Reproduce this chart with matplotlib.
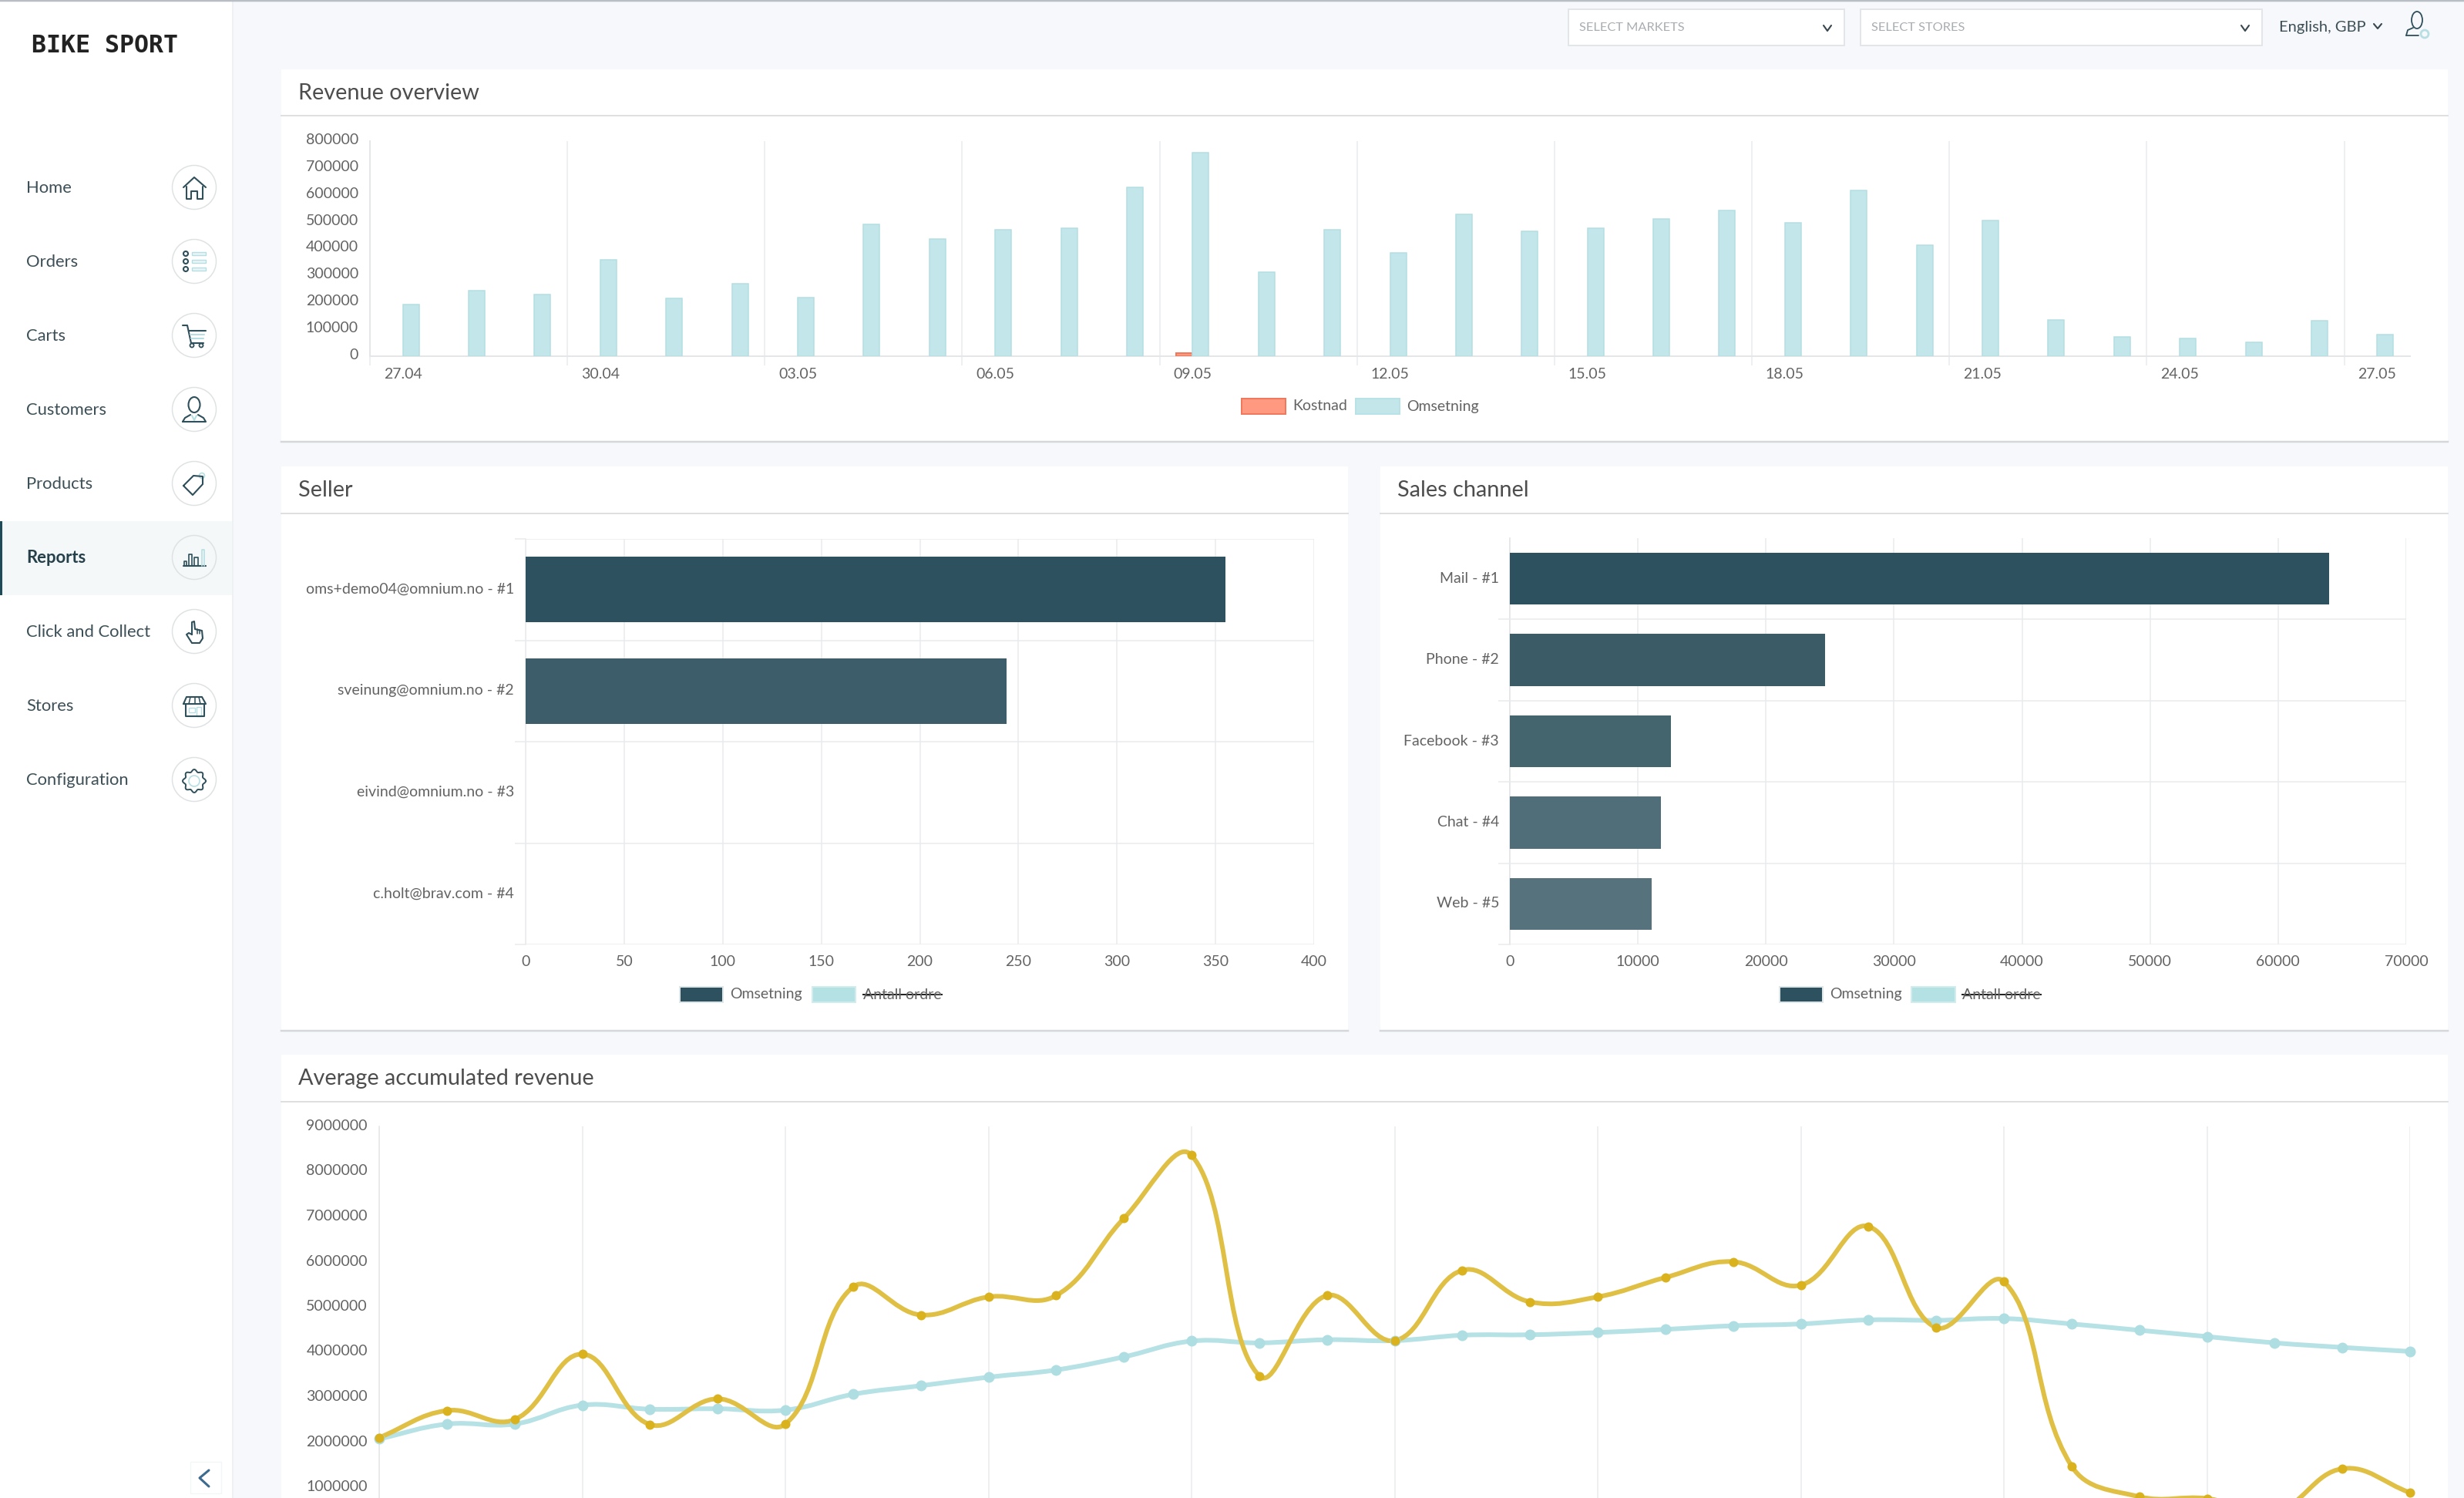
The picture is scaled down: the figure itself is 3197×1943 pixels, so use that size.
import numpy as np
import matplotlib
matplotlib.use('Agg')
import matplotlib.pyplot as plt
from matplotlib.patches import Rectangle, Circle, Ellipse, PathPatch
from matplotlib.path import Path
from matplotlib.transforms import ScaledTranslation

plt.rcParams['font.family'] = ['Lato', 'DejaVu Sans']

# revenue overview
date_labels = ['27.04', '30.04', '03.05', '06.05', '09.05', '12.05', '15.05', '18.05', '21.05', '24.05', '27.05']
omsetning = [192000, 244000, 229000, 358000, 216000, 269000, 218000, 490000, 435000, 470000, 475000,
             628000, 757000, 312000, 470000, 383000, 529000, 465000, 476000, 511000, 543000, 496000,
             616000, 414000, 505000, 134000, 72000, 66000, 51000, 131000, 79000]
kostnad = [0, 0, 0, 0, 0, 0, 0, 0, 0, 0, 0, 0, 12000, 0, 0, 0, 0, 0, 0, 0, 0, 0, 0, 0, 0, 0, 0, 0, 0, 0, 0]

# seller
sellers = ['oms+demo04@omnium.no - #1', 'sveinung@omnium.no - #2', 'eivind@omnium.no - #3', 'c.holt@brav.com - #4']
seller_values = [355, 244, 0, 0]

# sales channel
channels = ['Mail - #1', 'Phone - #2', 'Facebook - #3', 'Chat - #4', 'Web - #5']
channel_values = [63960, 24590, 12560, 11800, 11100]

# average accumulated revenue
acc_ticks = ['1000000', '2000000', '3000000', '4000000', '5000000', '6000000', '7000000', '8000000', '9000000']
acc_yellow = [2.10, 2.70, 2.50, 3.95, 2.39, 2.96, 2.40, 5.44, 4.82, 5.22, 5.25, 6.96, 8.36, 3.47, 5.25, 4.25,
              5.81, 5.11, 5.22, 5.65, 6.00, 5.48, 6.78, 4.54, 5.56, 1.47, 0.79, 0.75, 0.45, 1.41, 0.88]
acc_teal = [2.07, 2.40, 2.40, 2.82, 2.73, 2.74, 2.71, 3.06, 3.25, 3.44, 3.60, 3.89, 4.24, 4.20, 4.27, 4.25,
            4.37, 4.38, 4.43, 4.50, 4.58, 4.62, 4.71, 4.70, 4.74, 4.62, 4.48, 4.34, 4.20, 4.10, 4.01]

menu = ['Home', 'Orders', 'Carts', 'Customers', 'Products', 'Reports', 'Click and Collect', 'Stores', 'Configuration']

W, H = 3197, 1943
DARK = '#2f4f5a'
LIGHT = '#b7dfe3'
GRID = '#e9ebec'
TICK = '#636363'
TS = 14

fig = plt.figure(figsize=(W / 100, H / 100), dpi=100, facecolor='#f6f8fb')
bg = fig.add_axes([0, 0, 1, 1], zorder=0)
bg.set_xlim(0, W)
bg.set_ylim(H, 0)
bg.axis('off')


def px(n):
    return n * 0.72


def add_ax(x0, y0, x1, y1):
    ax = fig.add_axes([x0 / W, 1 - y1 / H, (x1 - x0) / W, (y1 - y0) / H], zorder=2)
    ax.patch.set_alpha(0)
    return ax


def card(x0, y0, x1, y1, head, title, title_x, bottom=True):
    bg.add_patch(Rectangle((x0, y0), x1 - x0, y1 - y0, fc='white', ec='none'))
    bg.plot([x0, x1], [head, head], color='#dddfe1', lw=px(2))
    if bottom:
        bg.plot([x0, x1], [y1, y1], color='#d5d8db', lw=px(2.5))
    bg.text(title_x, (y0 + head) / 2 + 1, title, fontsize=20.8, color='#4d4d4d', va='center', ha='left')


def line(pts, color=DARK, lw=1.5):
    a = np.array(pts)
    bg.plot(a[:, 0], a[:, 1], color=color, lw=lw, solid_capstyle='round', solid_joinstyle='round')


def legend_item(x0, x1, y, label, text_x, fc, ec, strike=False):
    bg.add_patch(Rectangle((x0, y - 10), x1 - x0, 20, fc=fc, ec=ec, lw=px(2)))
    t = bg.text(text_x, y, label, fontsize=TS, color=TICK, va='center', ha='left')
    if strike:
        fig.canvas.draw()
        e = t.get_window_extent()
        bg.plot([e.x0, e.x1], [y, y], color='#222222', lw=px(2))


def shift_labels(labels, up):
    for lab in labels:
        lab.set_transform(lab.get_transform() + ScaledTranslation(0, up / 100, fig.dpi_scale_trans))


def smooth_path(xs, ys, sx, sy, t=0.4):
    # same cubic smoothing as the web chart, measured in pixel space
    n = len(xs)
    before, after = [], []
    for i in range(n):
        a, b = max(i - 1, 0), min(i + 1, n - 1)
        d01 = np.hypot((xs[i] - xs[a]) * sx, (ys[i] - ys[a]) * sy)
        d12 = np.hypot((xs[b] - xs[i]) * sx, (ys[b] - ys[i]) * sy)
        s = d01 / (d01 + d12)
        dx, dy = xs[b] - xs[a], ys[b] - ys[a]
        before.append((xs[i] - t * s * dx, ys[i] - t * s * dy))
        after.append((xs[i] + t * (1 - s) * dx, ys[i] + t * (1 - s) * dy))
    verts = [(xs[0], ys[0])]
    codes = [Path.MOVETO]
    for i in range(n - 1):
        verts += [after[i], before[i + 1], (xs[i + 1], ys[i + 1])]
        codes += [Path.CURVE4] * 3
    return Path(verts, codes)


# page chrome
bg.add_patch(Rectangle((0, 0), 302, H, fc='white', ec='none'))
bg.plot([302, 302], [0, H], color='#eef0f3', lw=px(2))
bg.plot([0, W], [1, 1], color='#b9bdc4', lw=px(2.5))
bg.text(41, 60, 'BIKE SPORT', fontsize=22.8, family='DejaVu Sans Mono', weight='bold', color='#222222', va='center')

# sidebar
bg.add_patch(Rectangle((0, 676), 302, 96, fc='#f4f8f8', ec='none'))
bg.add_patch(Rectangle((0, 676), 2.5, 96, fc='#1f4a57', ec='none'))
for i, name in enumerate(menu):
    cy = 243 + 96 * i
    active = name == 'Reports'
    bg.text(34, cy + 1, name, fontsize=15.8, color='#26404a' if active else '#3d4f57',
            weight='bold' if active else 'normal', va='center')
    bg.add_patch(Circle((252, cy), 28.5, fc='white' if not active else '#f4f8f8', ec='#dfe2e3', lw=px(1.5)))

ox = 252


def rel(cy, pts):
    return [(ox + a, cy + b) for a, b in pts]


# home
cy = 243
line(rel(cy, [(-14, 0), (0, -13), (15, 0)]))
line(rel(cy, [(-10, -1), (-10, 15), (-4, 15), (-4, 5), (4, 5), (4, 15), (11, 15), (11, -1)]))
# orders
cy = 339
for dy in (-10, 0, 10):
    bg.add_patch(Circle((ox - 11, cy + dy), 3, fc='none', ec=DARK, lw=1.5))
    bg.add_patch(Rectangle((ox - 3, cy + dy - 2), 18, 4, fc='#e8f5f6', ec=LIGHT, lw=1))
# carts
cy = 435
line(rel(cy, [(-15, -13), (-9, -13), (-4, 10), (12, 10)]))
line(rel(cy, [(-7, -6), (15, -6)]))
line(rel(cy, [(-5, -1), (13, -1)]), LIGHT)
line(rel(cy, [(-4, 4), (12, 4)]), LIGHT)
bg.add_patch(Circle((ox - 3, cy + 13), 2.5, fc='none', ec=DARK, lw=1.3))
bg.add_patch(Circle((ox + 9, cy + 13), 2.5, fc='none', ec=DARK, lw=1.3))
# customers
cy = 531
bg.add_patch(Ellipse((ox, cy - 6), 15, 20, fc='none', ec=DARK, lw=1.5))
line(rel(cy, [(-15, 16), (-12, 11), (-5, 7)]))
line(rel(cy, [(5, 7), (12, 11), (15, 16), (-15, 16)]))
line(rel(cy, [(-3, 8), (0, 14), (3, 8)]), LIGHT)
# products
cy = 628
line(rel(cy, [(-14, 2), (-1, -11), (11, -10), (11, 0), (-2, 14), (-14, 2)]))
bg.add_patch(Circle((ox + 10, cy - 11), 3.5, fc='none', ec=LIGHT, lw=1.2))
# reports
cy = 724
line(rel(cy, [(-14, 10), (15, 10)]))
for a, b, top in [(-13, -10, 4), (-7, -3, -5), (0, 5, -1)]:
    line(rel(cy, [(a, 10), (a, top), (b, top), (b, 10)]), lw=1.2)
line(rel(cy, [(10, 10), (10, -11), (13, -11), (13, 10)]), LIGHT, 1.2)
# click and collect
cy = 820
line(rel(cy, [(-3, 3), (-3, -13), (0, -14), (1, -4), (10, -2), (11, 8), (7, 14), (-3, 14), (-10, 3), (-7, 1), (-3, 3)]))
line(rel(cy, [(4, -4), (4, 2)]), lw=1.1)
line(rel(cy, [(7, -3), (7, 2)]), lw=1.1)
# stores
cy = 916
line(rel(cy, [(-14, -3), (-10, -12), (10, -12), (15, -3), (-14, -3)]))
line(rel(cy, [(-11, -3), (-11, 13), (13, 13), (13, -3)]))
line(rel(cy, [(-5, -12), (-7, -3)]), lw=1.1)
line(rel(cy, [(1, -12), (1, -3)]), lw=1.1)
line(rel(cy, [(6, -12), (8, -3)]), lw=1.1)
bg.add_patch(Rectangle((ox - 7, cy + 2), 8, 6, fc='none', ec=LIGHT, lw=1))
bg.add_patch(Rectangle((ox + 3, cy + 1), 6, 12, fc='none', ec=LIGHT, lw=1))
# configuration
cy = 1013
th = np.linspace(0, 2 * np.pi, 121)
rr = 13.5 + 1.5 * np.cos(8 * th)
bg.plot(ox + rr * np.cos(th), cy + rr * np.sin(th), color=DARK, lw=1.4)
bg.add_patch(Circle((ox, cy), 7, fc='none', ec=LIGHT, lw=1.2))
# collapse arrow
bg.add_patch(Rectangle((247, 1896), 40, 41, fc='white', ec='#f4f5f6', lw=1))
line([(271, 1907), (259, 1917), (271, 1928)], '#3d6a8f', 2.2)

# top bar
for x0, x1, label in [(2035, 2393, 'SELECT MARKETS'), (2414, 2935, 'SELECT STORES')]:
    bg.add_patch(Rectangle((x0, 12), x1 - x0, 47, fc='white', ec='#e3e6e9', lw=px(2)))
    bg.text(x0 + 14, 36, label, fontsize=11.8, color='#a9aeb2', va='center')
    line([(x1 - 27, 33), (x1 - 22, 40), (x1 - 17, 33)], '#37474f', 1.5)
bg.text(2957, 35, 'English, GBP', fontsize=14.5, color='#3d4f57', va='center')
line([(3080, 31), (3085, 37), (3090, 31)], '#37474f', 1.5)
bg.add_patch(Ellipse((3136, 26), 14, 22, fc='none', ec=DARK, lw=1.3))
line([(3122, 46), (3124, 39), (3131, 36)], DARK, 1.3)
line([(3122, 46), (3138, 46)], DARK, 1.3)
bg.add_patch(Circle((3146, 44), 5, fc='none', ec=LIGHT, lw=2))

# cards
card(365, 90, 3176, 573, 150, 'Revenue overview', 387)
card(365, 605, 1749, 1337, 666, 'Seller', 387)
card(1791, 605, 3176, 1337, 666, 'Sales channel', 1813)
card(365, 1368, 3176, H + 10, 1429, 'Average accumulated revenue', 387, bottom=False)

# revenue overview chart
ax = add_ax(480, 183, 3127, 462)
pos = np.arange(len(omsetning))
has_cost = np.array(kostnad) > 0
ax.bar(pos[has_cost] - 0.123, np.array(kostnad)[has_cost], width=0.246, color='#ff9a80', edgecolor='#f0785c', lw=px(2), zorder=3)
ax.bar(pos + 0.123, omsetning, width=0.246, color='#c2e6e9', edgecolor='#b3dfe3', lw=px(1.5), zorder=3)
ax.set_xlim(-0.5, 30.5)
ax.set_ylim(0, 800000)
ax.set_yticks(np.arange(0, 800001, 100000))
ax.set_xticks(np.arange(0, 31, 3))
ax.set_xticklabels(date_labels)
ax.set_xticks(np.arange(-0.5, 30.6, 3), minor=True)
ax.tick_params(axis='x', which='major', length=0, pad=10.5, labelsize=TS, labelcolor=TICK)
ax.tick_params(axis='x', which='minor', length=px(12), width=px(1.5), color=GRID)
ax.tick_params(axis='y', length=0, pad=px(15), labelsize=TS, labelcolor=TICK)
ax.grid(True, axis='x', which='minor', color=GRID, lw=px(1.5), zorder=0)
shift_labels(ax.get_yticklabels(), 3)
for s in ('top', 'right'):
    ax.spines[s].set_visible(False)
for s in ('left', 'bottom'):
    ax.spines[s].set_color('#e4e6e7')
    ax.spines[s].set_linewidth(px(2))
legend_item(1611, 1668, 527, 'Kostnad', 1677, '#ff9a80', '#f0785c')
legend_item(1759, 1816, 527, 'Omsetning', 1825, '#c2e6e9', '#b9e2e6')

# seller chart
ax = add_ax(682, 699, 1705, 1225)
ax.barh(np.arange(len(sellers)), seller_values, height=0.645, color=['#2e5160', '#3c5d69', '#44646e', '#4f6e79'], zorder=3)
ax.set_xlim(0, 400)
ax.set_ylim(3.5, -0.5)
ax.set_xticks(np.arange(0, 401, 50))
ax.set_yticks(np.arange(len(sellers)))
ax.set_yticklabels(sellers)
ax.set_yticks(np.arange(-0.5, 3.6, 1), minor=True)
ax.tick_params(axis='x', length=0, pad=10, labelsize=TS, labelcolor=TICK)
ax.tick_params(axis='y', which='major', length=0, pad=px(15), labelsize=TS, labelcolor=TICK)
ax.tick_params(axis='y', which='minor', length=px(14), width=px(1.5), color=GRID)
ax.grid(True, axis='x', which='major', color=GRID, lw=px(1.5), zorder=0)
ax.grid(True, axis='y', which='minor', color=GRID, lw=px(1.5), zorder=0)
shift_labels(ax.get_yticklabels(), 2)
for s in ax.spines.values():
    s.set_visible(False)
ax.plot([0, 0], [-0.5, 3.5], color=GRID, lw=px(1.5), clip_on=False, zorder=1)
legend_item(882, 938, 1290, 'Omsetning', 947, '#2e5160', '#dfe6e8')
legend_item(1054, 1110, 1290, 'Antall ordre', 1120, '#b3e1e4', '#d2ecee', strike=True)

# sales channel chart
ax = add_ax(1959, 698, 3122, 1225)
ax.barh(np.arange(len(channels)), channel_values, height=0.64, color=['#2e5160', '#3b5c67', '#44646e', '#4f6e79', '#56737d'], zorder=3)
ax.set_xlim(0, 70000)
ax.set_ylim(4.5, -0.5)
ax.set_xticks(np.arange(0, 70001, 10000))
ax.set_yticks(np.arange(len(channels)))
ax.set_yticklabels(channels)
ax.set_yticks(np.arange(0.5, 4.6, 1), minor=True)
ax.tick_params(axis='x', length=0, pad=10, labelsize=TS, labelcolor=TICK)
ax.tick_params(axis='y', which='major', length=0, pad=px(14), labelsize=TS, labelcolor=TICK)
ax.tick_params(axis='y', which='minor', length=px(15), width=px(1.5), color=GRID)
ax.grid(True, axis='x', which='major', color=GRID, lw=px(1.5), zorder=0)
ax.grid(True, axis='y', which='minor', color=GRID, lw=px(1.5), zorder=0)
shift_labels(ax.get_yticklabels(), 2)
for s in ax.spines.values():
    s.set_visible(False)
ax.plot([0, 0], [-0.5, 4.5], color='#dcdfe0', lw=px(1.5), clip_on=False, zorder=1)
legend_item(2309, 2365, 1290, 'Omsetning', 2374, '#2e5160', '#dfe6e8')
legend_item(2480, 2537, 1290, 'Antall ordre', 2546, '#b3e1e4', '#d2ecee', strike=True)

# average accumulated revenue chart
ax = add_ax(492, 1461, 3127, H)
xs = np.arange(len(acc_yellow))
y_low = 9000000 - (H - 1461) / 58.5 * 1000000
teal = np.array(acc_teal) * 1000000
yellow = np.array(acc_yellow) * 1000000
ax.set_xlim(0, 30)
ax.set_ylim(y_low, 9000000)
sx, sy = 87.8, 58.5 / 1000000
ax.add_patch(PathPatch(smooth_path(xs, teal, sx, sy), fc='none', ec='#b6e1e5', lw=px(6), clip_on=False, zorder=3))
ax.add_patch(PathPatch(smooth_path(xs, yellow, sx, sy), fc='none', ec='#dfc045', lw=px(6), clip_on=False, zorder=4))
ax.plot(xs, teal, ls='none', marker='o', ms=px(14), color='#aedde2', mew=0, clip_on=False, zorder=5)
ax.plot(xs, yellow, ls='none', marker='o', ms=px(12), color='#d9b21e', mew=0, clip_on=False, zorder=6)
ax.set_xticks(np.arange(0, 31, 3))
ax.set_yticks(np.arange(1000000, 9000001, 1000000))
ax.set_yticklabels(acc_ticks)
ax.tick_params(axis='x', length=0, labelbottom=False)
ax.tick_params(axis='y', length=0, pad=px(15), labelsize=TS, labelcolor=TICK)
ax.grid(True, axis='x', color=GRID, lw=px(1.5), zorder=0)
shift_labels(ax.get_yticklabels(), 2)
for s in ('top', 'right', 'bottom'):
    ax.spines[s].set_visible(False)
ax.spines['left'].set_color('#e4e6e7')
ax.spines['left'].set_linewidth(px(1.5))

fig.savefig('out.png', dpi=100, facecolor=fig.get_facecolor())
